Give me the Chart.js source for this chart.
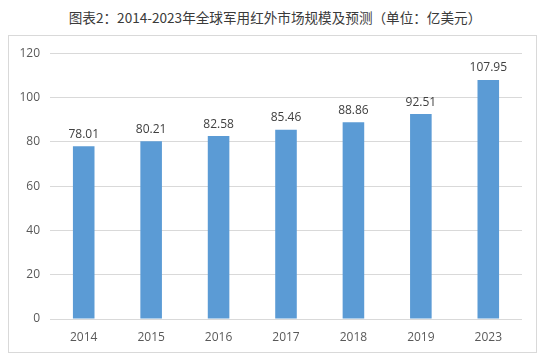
<!DOCTYPE html>
<html>
<head>
<meta charset="utf-8">
<script src="https://cdn.jsdelivr.net/npm/chart.js@4"></script>
<style>
  body { margin: 0; background: #fff; width: 550px; height: 358px; position: relative; overflow: hidden; }
  #title {
    position: absolute; left: 0; top: 7px; width: 550px; text-align: center;
    font: 13.6px "Noto Sans CJK SC", sans-serif; color: #3a3a3a;
  }
  #box {
    position: absolute; left: 8px; top: 35px; width: 527px; height: 316px;
    border: 1px solid #d9d9d9;
  }
</style>
</head>
<body>
<div id="title">图表2：2014-2023年全球军用红外市场规模及预测（单位：亿美元）</div>
<div id="box"><canvas id="chart" width="527" height="316"></canvas></div>
<script>
// ---- data ----
const years = ["2014", "2015", "2016", "2017", "2018", "2019", "2023"];
const marketSize = [78.01, 80.21, 82.58, 85.46, 88.86, 92.51, 107.95];
const yTicks = [0, 20, 40, 60, 80, 100, 120];

const BAR_BLUE = "#5b9bd5";
const FONT = "'Open Sans', 'Noto Sans', sans-serif";

// value labels above each bar
const barLabels = {
  id: "barLabels",
  afterDatasetsDraw(chart) {
    const { ctx } = chart;
    const meta = chart.getDatasetMeta(0);
    ctx.save();
    ctx.font = "12px " + FONT;
    ctx.fillStyle = "#404040";
    ctx.textAlign = "center";
    ctx.textBaseline = "bottom";
    meta.data.forEach((bar, i) => {
      ctx.fillText(marketSize[i].toFixed(2), bar.x, bar.y - 6);
    });
    ctx.restore();
  },
};

new Chart(document.getElementById("chart"), {
  type: "bar",
  data: {
    labels: years,
    datasets: [{
      data: marketSize,
      backgroundColor: BAR_BLUE,
      borderWidth: 0,
      barPercentage: 0.64,
      categoryPercentage: 0.5,
    }],
  },
  options: {
    responsive: false,
    animation: false,
    layout: { padding: { top: 16, right: 14, left: 0, bottom: 0 } },
    plugins: { legend: { display: false }, tooltip: { enabled: false } },
    scales: {
      x: {
        grid: { display: false, drawTicks: false },
        border: { display: false },
        ticks: { color: "#595959", font: { size: 12, family: FONT }, padding: 11 },
        afterFit: (s) => { s.height = 33; },
      },
      y: {
        min: 0,
        max: 120,
        afterBuildTicks: (s) => { s.ticks = yTicks.map((v) => ({ value: v })); },
        grid: { color: "#d9d9d9", drawTicks: false },
        border: { display: false },
        ticks: { color: "#595959", font: { size: 12, family: FONT }, padding: 10 },
        afterFit: (s) => { s.width = 41; },
      },
    },
  },
  plugins: [barLabels],
});
</script>
</body>
</html>
